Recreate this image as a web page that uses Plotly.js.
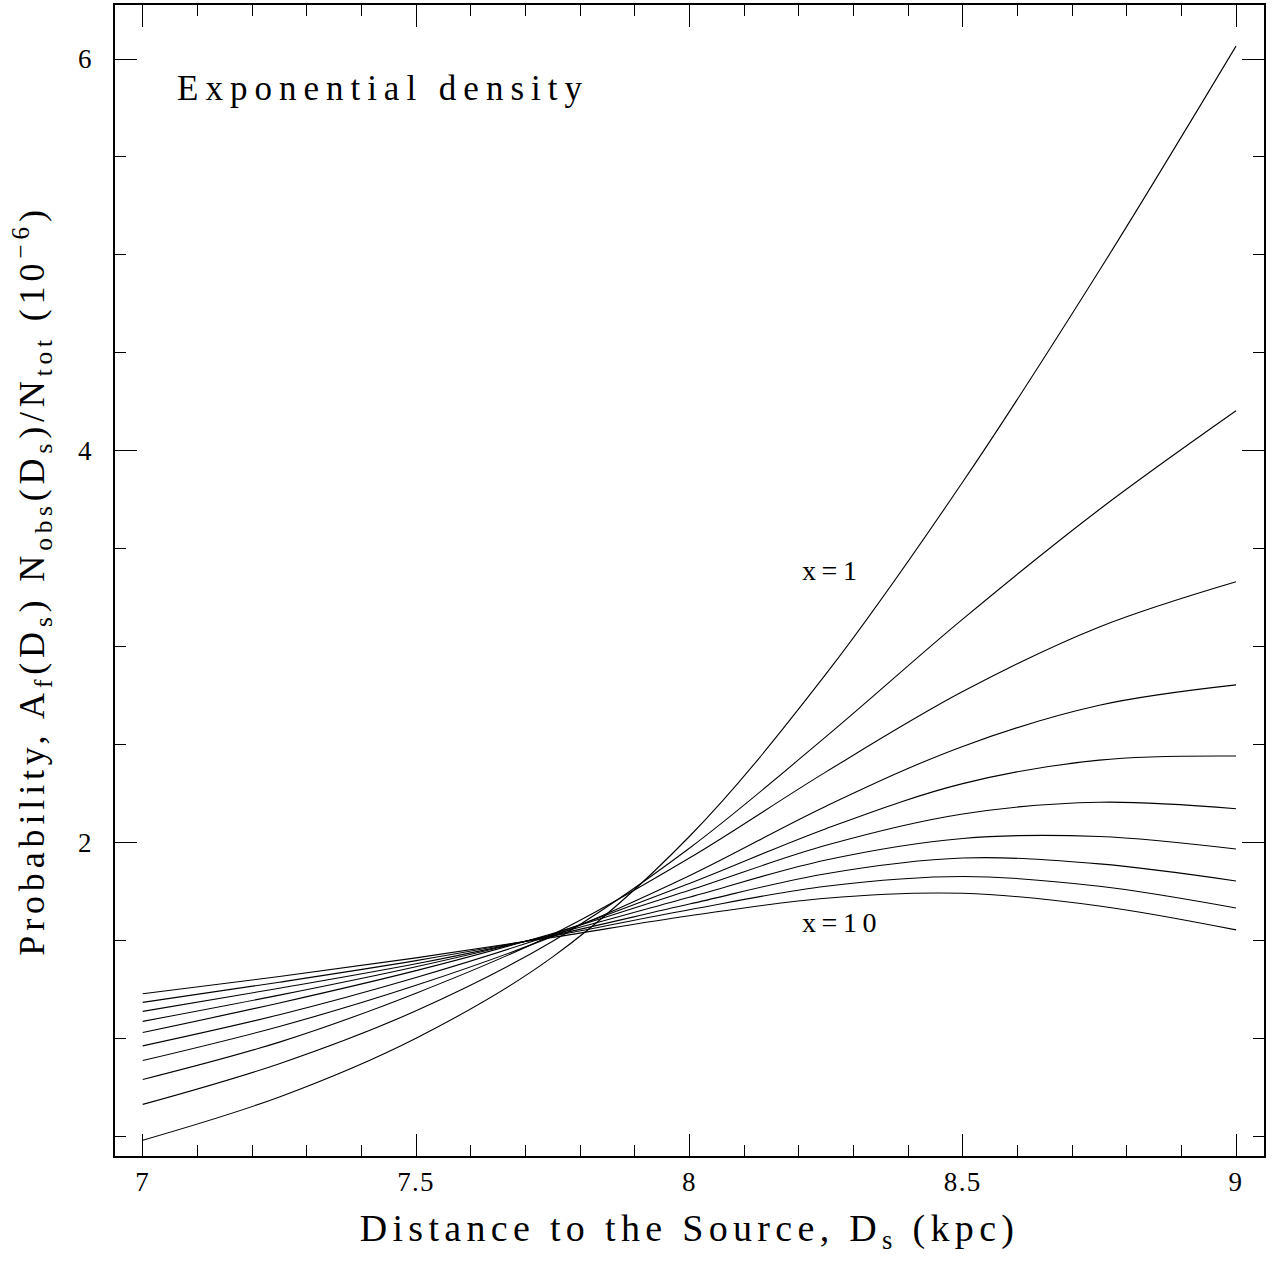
<!DOCTYPE html>
<html>
<head>
<meta charset="utf-8">
<script src="https://cdn.plot.ly/plotly-3.0.1.min.js"></script>
<style>
  html, body { margin: 0; padding: 0; background: #fff; }
  text.annotation-text { letter-spacing: 0.2em; }
  text.xtitle { letter-spacing: 0.14em; }
  text.ytitle { letter-spacing: 0.135em; }
  .xtick text, .ytick text { letter-spacing: 0.05em; }
</style>
</head>
<body>
<div id="chart" style="width:1273px;height:1262px;"></div>
<script>
// Distance to the source, D_s (kpc)
const distance = [7.0, 7.25, 7.5, 7.75, 8.0, 8.25, 8.5, 8.75, 9.0];

// Probability (1e-6) for each model parameter x
const x1  = [0.479, 0.700, 1.000, 1.415, 2.030, 2.860, 3.840, 4.920, 6.066];
const x2  = [0.662, 0.870, 1.140, 1.495, 1.970, 2.540, 3.140, 3.700, 4.204];
const x3  = [0.789, 0.980, 1.230, 1.530, 1.920, 2.360, 2.770, 3.100, 3.331];
const x4  = [0.886, 1.060, 1.270, 1.520, 1.830, 2.185, 2.490, 2.700, 2.804];
const x5  = [0.961, 1.120, 1.310, 1.530, 1.790, 2.070, 2.300, 2.420, 2.441];
const x6  = [1.029, 1.180, 1.345, 1.535, 1.755, 1.985, 2.145, 2.205, 2.172];
const x7  = [1.086, 1.220, 1.365, 1.530, 1.720, 1.910, 2.020, 2.030, 1.966];
const x8  = [1.137, 1.255, 1.380, 1.525, 1.685, 1.840, 1.920, 1.890, 1.803];
const x9  = [1.183, 1.286, 1.396, 1.521, 1.656, 1.776, 1.826, 1.776, 1.665];
const x10 = [1.227, 1.315, 1.410, 1.515, 1.625, 1.715, 1.740, 1.675, 1.553];

const seriesNames = ['x=1','x=2','x=3','x=4','x=5','x=6','x=7','x=8','x=9','x=10'];
const seriesValues = [x1, x2, x3, x4, x5, x6, x7, x8, x9, x10];

const FONT = '"Liberation Serif", "Times New Roman", serif';

const traces = seriesValues.map((vals, i) => ({
  type: 'scatter',
  mode: 'lines',
  name: seriesNames[i],
  x: distance,
  y: vals,
  line: { color: '#000', width: 1.1, shape: 'spline', smoothing: 1 },
  hoverinfo: 'x+y+name'
}));

const layout = {
  width: 1273,
  height: 1262,
  autosize: false,
  paper_bgcolor: '#fff',
  plot_bgcolor: '#fff',
  showlegend: false,
  margin: { l: 115, r: 9, t: 5, b: 106, pad: 0 },
  font: { family: FONT, color: '#000', size: 27 },
  xaxis: {
    range: [6.9493, 9.0512],
    showline: true, linecolor: '#000', linewidth: 1.5, mirror: 'ticks',
    showgrid: false, zeroline: false,
    ticks: 'inside', ticklen: 22, tickwidth: 1.2, tickcolor: '#000',
    tick0: 7, dtick: 0.5,
    minor: { ticks: 'inside', dtick: 0.1, tick0: 7, ticklen: 11, tickwidth: 1.2, tickcolor: '#000', showgrid: false },
    tickfont: { family: FONT, size: 27, color: '#000' },
    ticklabelstandoff: 1,
    title: {
      text: 'Distance to the Source, D<sub>s</sub> (kpc)',
      font: { family: FONT, size: 38, color: '#000' },
      standoff: 18
    }
  },
  yaxis: {
    range: [0.3985, 6.2759],
    showline: true, linecolor: '#000', linewidth: 1.5, mirror: 'ticks',
    showgrid: false, zeroline: false,
    ticks: 'inside', ticklen: 22, tickwidth: 1.2, tickcolor: '#000',
    tick0: 0, dtick: 2,
    minor: { ticks: 'inside', dtick: 0.5, tick0: 0, ticklen: 11, tickwidth: 1.2, tickcolor: '#000', showgrid: false },
    tickfont: { family: FONT, size: 27, color: '#000' },
    ticklabelstandoff: 15,
    title: {
      text: 'Probability, A<sub>f</sub>(D<sub>s</sub>) N<sub>obs</sub>(D<sub>s</sub>)/N<sub>tot</sub> (10<sup>−6</sup>)',
      font: { family: FONT, size: 36, color: '#000' },
      standoff: 22
    }
  },
  annotations: [
    { xref: 'x', yref: 'y', x: 7.059, y: 5.852, xanchor: 'left', yanchor: 'middle',
      text: 'Exponential density', showarrow: false,
      font: { family: FONT, size: 35, color: '#000' } },
    { xref: 'x', yref: 'y', x: 8.202, y: 3.39, xanchor: 'left', yanchor: 'middle',
      text: 'x=1', showarrow: false,
      font: { family: FONT, size: 28, color: '#000' } },
    { xref: 'x', yref: 'y', x: 8.202, y: 1.59, xanchor: 'left', yanchor: 'middle',
      text: 'x=10', showarrow: false,
      font: { family: FONT, size: 28, color: '#000' } }
  ]
};

Plotly.newPlot('chart', traces, layout, { displayModeBar: false });
</script>
</body>
</html>
